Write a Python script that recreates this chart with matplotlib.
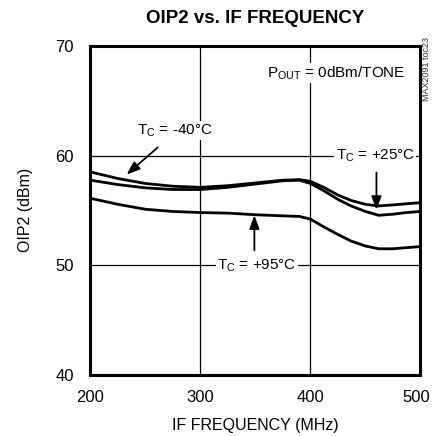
import matplotlib
matplotlib.use("Agg")
import matplotlib.pyplot as plt
import matplotlib.transforms as mtransforms

freq = [200, 225, 250, 275, 300, 325, 350, 375, 390, 400, 412, 425, 437, 450, 462, 475, 487, 500]
oip2_m40 = [58.5, 57.9, 57.45, 57.2, 57.1, 57.25, 57.5, 57.75, 57.8, 57.65, 57.1, 56.4, 55.9, 55.55, 55.4, 55.5, 55.6, 55.7]
oip2_p25 = [57.75, 57.35, 57.05, 56.9, 56.9, 57.1, 57.4, 57.7, 57.75, 57.45, 56.8, 56.0, 55.4, 54.9, 54.55, 54.65, 54.8, 54.9]
oip2_p95 = [56.1, 55.55, 55.1, 54.9, 54.8, 54.75, 54.6, 54.5, 54.45, 54.2, 53.5, 52.8, 52.2, 51.75, 51.5, 51.5, 51.6, 51.7]
xticks = [200, 300, 400, 500]
yticks = [40, 50, 60, 70]

plt.rcParams['font.family'] = ['Liberation Sans', 'DejaVu Sans']

fig = plt.figure(figsize=(4.33, 4.36), dpi=100)
ax = fig.add_axes([0.209, 0.140, 0.762, 0.755])

for s in (oip2_m40, oip2_p25, oip2_p95):
    ax.plot(freq, s, color='black', lw=2.0, solid_capstyle='round', zorder=3)

ax.set_xlim(200, 500)
ax.set_ylim(40, 70)
ax.set_xticks(xticks)
ax.set_yticks(yticks)
ax.tick_params(length=0, labelsize=12)
ax.tick_params(axis='x', pad=11)
ax.tick_params(axis='y', pad=12)
ax.grid(True, color='black', lw=0.9)
ax.set_axisbelow(True)
for sp in ax.spines.values():
    sp.set_linewidth(2.2)

# nudge last x tick label slightly left so it stays inside the figure
last = ax.get_xticklabels()[-1]
last.set_transform(last.get_transform() + mtransforms.ScaledTranslation(-4/100, 0, fig.dpi_scale_trans))

ax.set_xlabel('IF FREQUENCY (MHz)', fontsize=11.5, labelpad=9)
ax.set_ylabel('OIP2 (dBm)', fontsize=11.5, labelpad=16)
fig.text(0.589, 0.958, 'OIP2 vs. IF FREQUENCY', ha='center', va='center',
         fontsize=13.5, fontweight='bold')

bb = dict(facecolor='white', edgecolor='none', pad=1)
fs = 11
ax.text(486, 67.5, r'P$_\mathregular{OUT}$ = 0dBm/TONE', ha='right', va='center', fontsize=fs, bbox=bb, zorder=4)
ax.text(277, 62.3, r'T$_\mathregular{C}$ = -40°C', ha='center', va='center', fontsize=fs, bbox=bb, zorder=4)
ax.text(459, 60, r'T$_\mathregular{C}$ = +25°C', ha='center', va='center', fontsize=fs, bbox=bb, zorder=4)
ax.text(351, 50, r'T$_\mathregular{C}$ = +95°C', ha='center', va='center', fontsize=fs, bbox=bb, zorder=4)

ap = dict(arrowstyle='-|>,head_length=0.8,head_width=0.3', color='black', lw=1.3)
ax.annotate('', xy=(231, 58.1), xytext=(263, 60.9), arrowprops=ap, zorder=5)
ax.annotate('', xy=(460, 54.8), xytext=(460, 58.7), arrowprops=ap, zorder=5)
ax.annotate('', xy=(349, 54.8), xytext=(349, 51.1), arrowprops=ap, zorder=5)

fig.text(0.986, 0.842, 'MAX2091 toc23', rotation=90, ha='center', va='center',
         fontsize=6.5, color='#333333')

fig.savefig('out.png', dpi=100)
